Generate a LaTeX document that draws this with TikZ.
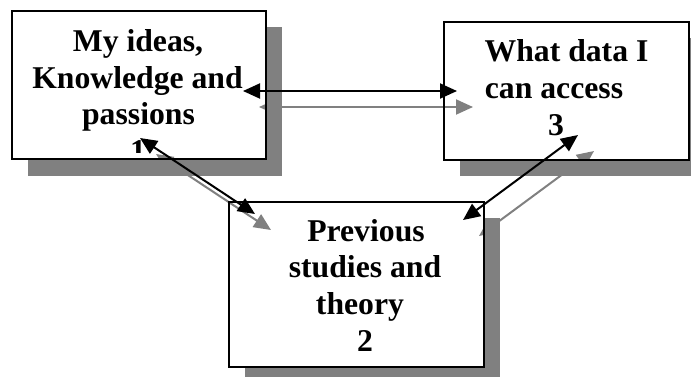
\documentclass[tikz,border=0pt]{standalone}
\usepackage{fontspec}
\setmainfont{Liberation Serif}
\usetikzlibrary{arrows.meta}
\definecolor{shade}{HTML}{808080}
\tikzset{
  boxshadow/.style={fill=shade, draw=none},
  panel/.style={rectangle, inner sep=0pt, line width=1.5pt},
  lbl/.style={anchor=base, inner sep=0pt, font=\fontsize{31.7}{36.7}\selectfont\bfseries},
  link/.style={line width=2pt, draw=black,
    {Triangle[length=17pt,width=15pt]}-{Triangle[length=17pt,width=15pt]}},
  linkshadow/.style={link, draw=shade, fill=shade},
}
\begin{document}
\begin{tikzpicture}[x=1pt,y=-1pt]
\useasboundingbox (0,0) rectangle (691,376);

% drop shadows of the three panels
\begin{scope}
  \clip (0,0) rectangle (691,376);
  \fill[boxshadow] (28,27) rectangle (282,176);
  \fill[boxshadow] (460,38) rectangle (705,176);
  \fill[boxshadow] (245,218) rectangle (500,383);
\end{scope}

% white panels
\fill[white] (12,11) rectangle (266,159);
\fill[white] (444,22) rectangle (689,160);
\fill[white] (229,202) rectangle (484,367);

% labels
\node[lbl] (t1a) at (138,51.5) {My ideas,};
\node[lbl] (t1b) at (137.5,88) {Knowledge and};
\node[lbl] (t1c) at (138.5,124.5) {passions};
\begin{scope}
  \clip (12,11) rectangle (266,152);
  \node[lbl] (t1d) at (138,161) {1};
\end{scope}

\node[lbl] (t3a) at (566.5,61.7) {What data I};
\node[lbl] (t3b) at (554,98.3) {can access};
\node[lbl] (t3c) at (556,135) {3};

\node[lbl] (t2a) at (366,241) {Previous};
\node[lbl] (t2b) at (365,277.7) {studies and};
\node[lbl] (t2c) at (360,314.3) {theory};
\node[lbl] (t2d) at (365,351) {2};

% connector end points
\coordinate (h1) at (243,91);   \coordinate (h2) at (457,91);
\coordinate (hs1) at (259,107); \coordinate (hs2) at (473,107);
\coordinate (l1) at (140,138);  \coordinate (l2) at (255,214);
\coordinate (ls1) at (156,154); \coordinate (ls2) at (271,230);
\coordinate (r1) at (463,220);  \coordinate (r2) at (578,135);
\coordinate (rs1) at (479,236); \coordinate (rs2) at (594,151);

% shadows of the connectors
\draw[linkshadow] (hs1) -- (hs2);
\draw[linkshadow] (ls1) -- (ls2);
\draw[linkshadow] (rs1) -- (rs2);

% connectors
\draw[link] (h1) -- (h2);
\draw[link] (l1) -- (l2);
\draw[link] (r1) -- (r2);

% panel outlines
\node[panel, draw, minimum width=254pt, minimum height=148pt] (b1) at (139,85) {};
\node[panel, draw, minimum width=245pt, minimum height=138pt] (b3) at (566.5,91) {};
\node[panel, draw, minimum width=255pt, minimum height=165pt] (b2) at (356.5,284.5) {};
\end{tikzpicture}
\end{document}
